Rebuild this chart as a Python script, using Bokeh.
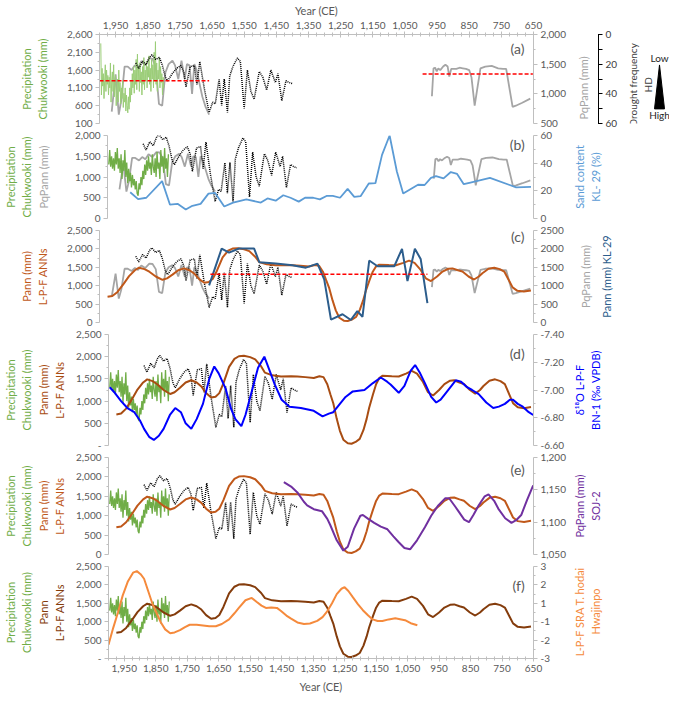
import math
from bokeh.plotting import figure
from bokeh.models import Range1d, LinearAxis, FixedTicker, NumeralTickFormatter, Label
from bokeh.layouts import column, row
from bokeh.core.properties import value
from bokeh.embed import file_html
from bokeh.resources import INLINE

# ---------------- data ----------------
year_ticks = [1950, 1850, 1750, 1650, 1550, 1450, 1350, 1250, 1150, 1050, 950, 850, 750, 650]
year_minor = list(range(2000, 649, -25))

# Chukwooki precipitation, annual (panel a)
chuk_annual_years = list(range(1996, 1798, -2))
chuk_annual = [2350, 900, 1650, 1150, 1500, 800, 1300, 1750, 1000, 1600,
               1200, 1450, 900, 1400, 1100, 1800, 700, 1300, 1550, 1000,
               1750, 850, 1200, 1450, 600, 1100, 1350, 700, 1600, 1000,
               1250, 650, 1100, 800, 1300, 550, 950, 700, 1100, 450,
               900, 600, 400, 850, 500, 1100, 700, 1300, 900, 1500,
               1100, 1700, 950, 1600, 1200, 1900, 1050, 2050, 1300, 1700,
               1000, 1800, 1250, 1550, 900, 1700, 1200, 1950, 1050, 1600,
               1300, 1850, 1100, 1700, 1400, 2000, 1200, 1650, 1000, 1900,
               1350, 1750, 1100, 2100, 1300, 2400, 1200, 1800, 1000, 1600,
               1350, 1950, 1100, 1700, 1250, 1500, 900, 1400, 1100]

# Chukwooki precipitation, smoothed (panels b, d, e, f)
chuk_years = list(range(1996, 1806, -3))
chuk = [1300, 1650, 1250, 1500, 1200, 1450, 1150, 1600,
        1300, 1700, 1200, 1450, 1100, 1550, 950, 1400,
        1150, 1650, 1000, 1350, 850, 1200, 900, 1100,
        750, 1050, 800, 950, 700, 900, 600, 550,
        850, 700, 1000, 800, 1150, 950, 1300, 1050,
        1400, 1150, 1500, 1200, 1350, 1050, 1550, 1250,
        1100, 1450, 1000, 1600, 1200, 1350, 950, 1650,
        1250, 1500, 1100, 1700, 1200, 1450, 1000, 1550]

# PqPann (grey), two segments
pq_early_years = [1962, 1950, 1940, 1932, 1922, 1912, 1900, 1890, 1880, 1870, 1858, 1845, 1835, 1825, 1815, 1805,
                  1795, 1785, 1773, 1765, 1755, 1745, 1735, 1728, 1720, 1712, 1705, 1698, 1690, 1680, 1670, 1659]
pq_early = [700, 1330, 650, 900, 1460, 1460, 1400, 1480, 1430, 1550, 1480, 1600, 1590, 1450, 830, 800,
            1360, 1500, 1560, 1480, 1250, 1560, 1250, 1500, 1480, 1000, 1500, 1400, 1200, 950, 780, 650]
pq_late_years = [966, 961, 956, 951, 946, 940, 931, 924, 917, 912, 906, 899, 890, 880, 870, 860, 850, 843, 833,
                 815, 800, 780, 760, 745, 735, 715, 705, 685, 660]
pq_late = [960, 1430, 1440, 1380, 1430, 1400, 1460, 1490, 1460, 1290, 1420, 1420, 1420, 1440, 1430, 1420, 1400,
           1280, 800, 1430, 1460, 1470, 1430, 1420, 1420, 780, 800, 850, 920]

# black dotted record
dot_years = [1887, 1878, 1866, 1855, 1845, 1837, 1825, 1814, 1805, 1795, 1788, 1773, 1760, 1747, 1738, 1731,
             1718, 1705, 1697, 1688, 1674, 1659, 1648, 1640, 1628, 1620, 1612, 1602, 1595, 1585, 1571, 1562,
             1550, 1540, 1529, 1519, 1503, 1492, 1480, 1467, 1453, 1445, 1433, 1420, 1410, 1400]
dot_vals = [1800, 1650, 1850, 1750, 1950, 2030, 1900, 1960, 1750, 1400, 1300, 1510, 1650, 1730, 1550, 1130,
            1700, 1730, 1200, 1840, 1080, 410, 700, 650, 1340, 610, 1350, 410, 1430, 1700, 1940, 1850,
            520, 1600, 1000, 780, 1560, 1400, 1040, 1600, 1250, 1500, 740, 1300, 1250, 1220]

# red dashed mean lines
mean_a_early_years, mean_a_early = [2000, 1659], [1220, 1220]
mean_a_late_years, mean_a_late = [995, 652], [1335, 1335]
mean_c_years, mean_c = [1655, 980], [1314, 1314]

# sand content KL-29 (%)
sand_years = [1928, 1903, 1877, 1827, 1802, 1778, 1752, 1731, 1705, 1680, 1659, 1630, 1602, 1560, 1514, 1493,
              1467, 1443, 1420, 1394, 1374, 1348, 1327, 1306, 1286, 1263, 1239, 1218, 1198, 1172, 1151, 1130,
              1106, 1083, 1063, 1016, 995, 975, 959, 935, 912, 892, 871, 850, 788, 705, 658]
sand = [19, 14, 15, 27, 10, 10.6, 6.5, 9.2, 10.6, 18, 18.5, 8.7, 11.5, 13.8, 11.5, 14.5,
        12.9, 16.8, 15, 12.2, 15, 15, 13.8, 16.3, 16.3, 15, 21.4, 15.6, 16.1, 25.3, 25.5, 46,
        60, 34, 18, 24.4, 24.2, 29.4, 30.6, 29, 33.6, 32.2, 24.8, 26, 29.4, 22.5, 22.8]

# Pann L-P-F ANNs (brown)
anns_years = [1975, 1960, 1944, 1925, 1908, 1890, 1877, 1860, 1845, 1825, 1804, 1790, 1773, 1755, 1737, 1720,
              1705, 1690, 1674, 1660, 1648, 1635, 1617, 1600, 1586, 1570, 1550, 1534, 1515, 1503, 1480, 1452,
              1420, 1400, 1375, 1348, 1330, 1317, 1305, 1295, 1286, 1275, 1265, 1254, 1240, 1228, 1215, 1202,
              1190, 1180, 1172, 1160, 1150, 1140, 1130, 1100, 1078, 1055, 1037, 1020, 1001, 985, 969, 950,
              933, 915, 902, 885, 871, 852, 835, 820, 809, 790, 772, 755, 741, 725, 715, 700, 680, 658]
anns = [700, 720, 830, 1050, 1260, 1420, 1490, 1450, 1380, 1250, 1160, 1200, 1300, 1420, 1470, 1420,
        1330, 1180, 1080, 1100, 1180, 1400, 1770, 1950, 2010, 2020, 1990, 1940, 1780, 1640, 1580, 1555,
        1560, 1555, 1540, 1520, 1560, 1540, 1380, 1150, 950, 600, 330, 130, 50, 40, 80, 150,
        350, 600, 850, 1150, 1380, 1520, 1570, 1560, 1555, 1620, 1680, 1620, 1430, 1200, 1126, 1250,
        1384, 1460, 1470, 1420, 1384, 1250, 1168, 1250, 1340, 1460, 1490, 1450, 1384, 1120, 954, 860, 840, 869]

# Pann KL-29 (dark blue)
kl29_years = [1659, 1620, 1597, 1566, 1519, 1503, 1452, 1400, 1358, 1322, 1301, 1280, 1244, 1218, 1198, 1182,
              1161, 1135, 1083, 1059, 1042, 1019, 1001, 980]
kl29 = [1010, 2010, 1900, 2010, 2010, 1640, 1600, 1555, 1490, 1600, 1170, 80, 224, 69, 309, 155,
        1684, 1529, 1529, 2002, 1126, 2002, 1727, 524]

# d18O L-P-F BN-1
d18o_years = [1996, 1980, 1960, 1940, 1918, 1900, 1887, 1870, 1856, 1840, 1825, 1805, 1788, 1770, 1755, 1737,
              1720, 1700, 1680, 1664, 1650, 1628, 1610, 1597, 1578, 1565, 1545, 1525, 1505, 1490, 1472, 1450,
              1425, 1389, 1348, 1320, 1300, 1286, 1265, 1247, 1224, 1187, 1160, 1135, 1115, 1104, 1078, 1060,
              1040, 1026, 1010, 995, 975, 959, 945, 928, 897, 880, 861, 845, 824, 800, 778, 760, 741, 725,
              715, 700, 684, 665, 651]
d18o = [-7.02, -6.98, -6.92, -6.87, -6.84, -6.78, -6.72, -6.66, -6.64, -6.67, -6.72, -6.82, -6.87, -6.84, -6.76, -6.72,
        -6.79, -6.90, -7.08, -7.17, -7.12, -7.01, -6.86, -6.79, -6.74, -6.82, -6.99, -7.16, -7.24, -7.15, -7.04, -6.93,
        -6.88, -6.87, -6.85, -6.81, -6.83, -6.84, -6.90, -6.95, -6.99, -7.00, -7.05, -7.09, -7.06, -7.04, -6.98, -7.03,
        -7.14, -7.18, -7.12, -7.05, -6.95, -6.91, -6.93, -6.98, -7.07, -7.06, -7.02, -7.00, -6.97, -6.91, -6.87, -6.88,
        -6.90, -6.93, -6.93, -6.90, -6.88, -6.84, -6.82]

# PqPann SOJ-2 (purple)
soj_years = [1443, 1420, 1400, 1380, 1369, 1348, 1322, 1305, 1296, 1275, 1254, 1240, 1220, 1200, 1192, 1175,
             1156, 1135, 1114, 1095, 1078, 1060, 1042, 1020, 995, 975, 954, 930, 918, 900, 887, 870, 855, 840,
             824, 805, 793, 775, 762, 740, 720, 705, 689, 670, 651]
soj = [1162, 1155, 1146, 1132, 1126, 1120, 1117, 1105, 1096, 1072, 1056, 1062, 1090, 1110, 1111, 1105,
       1099, 1093, 1089, 1078, 1069, 1060, 1058, 1072, 1092, 1110, 1125, 1137, 1137, 1125, 1116, 1104, 1100, 1112,
       1126, 1140, 1143, 1133, 1121, 1106, 1099, 1103, 1111, 1135, 1157]

# L-P-F SRA T. hodai Hwajinpo (orange)
sra_years = [2000, 1985, 1970, 1955, 1939, 1922, 1910, 1898, 1887, 1874, 1861, 1848, 1835, 1820, 1804, 1790,
             1773, 1757, 1742, 1720, 1700, 1680, 1659, 1640, 1617, 1600, 1586, 1565, 1545, 1530, 1514, 1500,
             1483, 1465, 1452, 1435, 1420, 1400, 1379, 1360, 1337, 1320, 1306, 1290, 1275, 1260, 1250, 1238,
             1224, 1208, 1192, 1175, 1161, 1145, 1130, 1110, 1089, 1070, 1058, 1040, 1019]
sra = [-2.1, -1.0, 0.0, 1.1, 2.0, 2.6, 2.7, 2.5, 2.2, 1.4, 0.6, 0.0, -0.6, -1.1, -1.35, -1.3,
       -1.15, -0.95, -0.8, -0.8, -0.85, -0.9, -0.9, -0.75, -0.45, -0.05, 0.3, 0.8, 0.95, 0.7, 0.45, 0.3,
       0.32, 0.3, 0.1, -0.2, -0.4, -0.65, -0.75, -0.72, -0.55, -0.3, 0.05, 0.6, 1.2, 1.55, 1.65, 1.4,
       1.0, 0.55, 0.15, -0.2, -0.45, -0.55, -0.55, -0.45, -0.38, -0.45, -0.5, -0.7, -0.83]

# drought-frequency scale legend (HD units)
hd_ticks = [0, 20, 40, 60]
hd_minor = [10, 30, 50]
tri_x = [-0.5, 0.5, 0.0]
tri_hd = [50, 50, 8]
tri_text_x = [0, 0]
tri_text_hd = [1.5, 56]
tri_text = ["Low", "High"]

# ---------------- style ----------------
FONT = "Lato"
TICK_SIZE = "10px"
LABEL_SIZE = "11px"
AXIS_GREY = "#bfbfbf"
TICK_TEXT = "#595959"
GREEN = "#70ad47"
GREEN_LIGHT = "#9bcd78"
GREY = "#a5a5a5"
RED = "#ff0000"
SAND = "#5b9bd5"
BROWN = "#c0581a"
BROWN_D = "#a84c12"
BROWN_F = "#843c0c"
KL29 = "#2c5d8c"
D18O = "#0000ff"
PURPLE = "#7030a0"
ORANGE = "#f58a3c"
DARK = "#404040"
DOT = "1 1"

W = 669          # total width
FL = 99          # left border (axes + titles)
FW = 434         # frame width
R1 = 40          # right border holding the right-hand tick labels
WP = FL + FW + R1
GAP = 6

x_range = Range1d(2000, 650)


def make_panel(top, frame, bottom, y_range, extra, width=WP):
    p = figure(width=width, height=top + frame + bottom, x_range=x_range, y_range=y_range,
               x_axis_location=None, y_axis_location=None,
               output_backend="svg", toolbar_location=None,
               min_border_left=FL, min_border_right=width - FL - FW,
               min_border_top=top, min_border_bottom=bottom)
    p.extra_y_ranges = extra
    p.outline_line_color = None
    p.grid.visible = False
    return p


def blank(width, height, xr, yr):
    f = figure(width=width, height=height, x_range=xr, y_range=yr,
               x_axis_location=None, y_axis_location=None, min_border=0,
               output_backend="svg", toolbar_location=None)
    f.outline_line_color = None
    f.grid.visible = False
    return f


def title_strip(width, top, frame, bottom, items, dy=0):
    # rotated titles (reading bottom-to-top) beside the right-hand axis, centred on the frame
    h = top + frame + bottom
    f = blank(width, h, Range1d(0, width), Range1d(0, h))
    for x, text, color in items:
        f.text(x=[x], y=[bottom + frame / 2 + dy], text=[text], angle=math.pi / 2,
               text_align="center", text_baseline="middle", text_font=value(FONT),
               text_font_size=LABEL_SIZE, text_color=color)
    return f


def add_y_axis(p, side, rng, ticks, minor, fmt, label, label_color, standoff,
               line_color=AXIS_GREY, text_color=TICK_TEXT, overrides=None,
               tick_in=0, tick_out=4, minor_in=0, minor_out=2):
    ax = LinearAxis(y_range_name=rng, ticker=FixedTicker(ticks=ticks, minor_ticks=minor),
                    formatter=NumeralTickFormatter(format=fmt), axis_label=label)
    ax.axis_line_color = line_color
    ax.major_tick_line_color = line_color
    ax.minor_tick_line_color = line_color
    ax.major_tick_in = tick_in
    ax.major_tick_out = tick_out
    ax.minor_tick_in = minor_in
    ax.minor_tick_out = minor_out
    ax.major_label_standoff = 3
    ax.major_label_text_font = FONT
    ax.major_label_text_font_size = TICK_SIZE
    ax.major_label_text_color = text_color
    ax.axis_label_text_font = FONT
    ax.axis_label_text_font_size = LABEL_SIZE
    ax.axis_label_text_font_style = "normal"
    ax.axis_label_text_color = label_color
    ax.axis_label_standoff = standoff
    if overrides:
        ax.major_label_overrides = overrides
    p.add_layout(ax, side)
    return ax


def add_label_axis(p, side, rng, label, label_color, standoff):
    ax = LinearAxis(y_range_name=rng, ticker=FixedTicker(ticks=[]), axis_label=label)
    ax.axis_line_color = None
    ax.major_tick_in = 0
    ax.major_tick_out = 0
    ax.minor_tick_in = 0
    ax.minor_tick_out = 0
    ax.major_label_text_font_size = "0px"
    ax.axis_label_text_font = FONT
    ax.axis_label_text_font_size = LABEL_SIZE
    ax.axis_label_text_font_style = "normal"
    ax.axis_label_text_color = label_color
    ax.axis_label_standoff = standoff
    p.add_layout(ax, side)
    return ax


def add_x_axis(p, side):
    ax = LinearAxis(ticker=FixedTicker(ticks=year_ticks, minor_ticks=year_minor),
                    formatter=NumeralTickFormatter(format="0,0"), axis_label="Year (CE)")
    ax.axis_line_color = AXIS_GREY
    ax.major_tick_line_color = AXIS_GREY
    ax.minor_tick_line_color = AXIS_GREY
    ax.major_tick_in = 3
    ax.major_tick_out = 3
    ax.minor_tick_in = 2
    ax.minor_tick_out = 2
    ax.major_label_standoff = 3
    ax.major_label_text_font = FONT
    ax.major_label_text_font_size = TICK_SIZE
    ax.major_label_text_color = TICK_TEXT
    ax.axis_label_text_font = FONT
    ax.axis_label_text_font_size = LABEL_SIZE
    ax.axis_label_text_font_style = "normal"
    ax.axis_label_text_color = TICK_TEXT
    ax.axis_label_standoff = 2 if side == "above" else 5
    p.add_layout(ax, side)


def panel_tag(p, text, y):
    p.add_layout(Label(x=678, y=y, text=text, text_align="right", text_baseline="middle",
                       text_font=FONT, text_font_size="14px", text_color=TICK_TEXT))


def steps(a, b, s):
    out = []
    v = a
    while (s > 0 and v <= b + 1e-9) or (s < 0 and v >= b - 1e-9):
        out.append(round(v, 4))
        v += s
    return out


mm_ticks_2500 = steps(0, 2500, 500)
mm_minor_2500 = steps(250, 2250, 500)

# ---------------- panel (a) ----------------
TA, FA, BA = 32, 91, GAP
HA = TA + FA + BA
pa = make_panel(TA, FA, BA, Range1d(100, 2600), {"pq": Range1d(500, 2000)})
add_x_axis(pa, "above")
add_y_axis(pa, "left", "default", steps(100, 2600, 500), steps(350, 2350, 500), "0,0",
           "Precipitation\nChukwooki (mm)", GREEN, 15)
add_y_axis(pa, "right", "pq", steps(500, 2000, 500), steps(750, 1750, 500), "0,0", None, GREY, 0)
pa.line(pq_early_years, pq_early, y_range_name="pq", color=GREY, line_width=1.8)
pa.line(pq_late_years, pq_late, y_range_name="pq", color=GREY, line_width=1.8)
pa.line(chuk_annual_years, chuk_annual, color=GREEN_LIGHT, line_width=1)
pa.line(dot_years, dot_vals, color="black", line_width=1.5, line_dash=DOT)
pa.line(mean_a_early_years, mean_a_early, y_range_name="pq", color=RED, line_width=1.5, line_dash="4 2")
pa.line(mean_a_late_years, mean_a_late, y_range_name="pq", color=RED, line_width=1.5, line_dash="4 2")
panel_tag(pa, "(a)", 2210)

W_T1 = 25
ta = title_strip(W_T1, TA, FA, BA, [(10, "PqPann (mm)", GREY)])

# drought-frequency axis on a 1-px frame
W_HD = 21
fhd = figure(width=W_HD, height=HA, x_range=Range1d(0, 1), y_range=Range1d(60, 0),
             x_axis_location=None, y_axis_location=None,
             min_border_left=0, min_border_right=W_HD - 1, min_border_top=TA, min_border_bottom=BA,
             output_backend="svg", toolbar_location=None)
fhd.outline_line_color = None
fhd.grid.visible = False
add_y_axis(fhd, "right", "default", hd_ticks, hd_minor, "0", None, DARK, 0,
           line_color="black", text_color=DARK, tick_in=4, tick_out=4, minor_in=4, minor_out=4)

# title + Low/High triangle; x in units of 10 px, triangle centred 40 px from the strip's left edge
W_TRI = W - WP - W_T1 - W_HD
hd_per_px = 60 / FA
tri = blank(W_TRI, HA, Range1d(-4.0, -4.0 + W_TRI / 10),
            Range1d(60 + BA * hd_per_px, -TA * hd_per_px))
tri.patch(tri_x, tri_hd, color="black")
tri.text(x=tri_text_x, y=tri_text_hd, text=tri_text, text_align="center", text_baseline="middle",
         text_font=value(FONT), text_font_size="10px", text_color="#262626")
tri.text(x=[-1.9], y=[27], text=["Drought frequency\nHD"], angle=math.pi / 2,
         text_align="center", text_baseline="middle", text_font=value(FONT),
         text_font_size="10px", text_color=DARK)

# ---------------- panel (b) ----------------
pb = make_panel(GAP, 83, GAP, Range1d(0, 2000), {"sand": Range1d(0, 60)})
add_y_axis(pb, "left", "default", steps(0, 2000, 500), steps(250, 1750, 500), "0,0",
           "PqPann (mm)", GREY, 22)
add_label_axis(pb, "left", "default", "Precipitation\nChukwooki (mm)", GREEN, 2)
add_y_axis(pb, "right", "sand", [0, 20, 40, 60], [10, 30, 50], "0", None, SAND, 0)
pb.line(pq_early_years, pq_early, color=GREY, line_width=1.8)
pb.line(pq_late_years, pq_late, color=GREY, line_width=1.8)
pb.line(chuk_years, chuk, color=GREEN, line_width=1.3)
pb.line(dot_years, dot_vals, color="black", line_width=1.5, line_dash=DOT)
pb.line(sand_years, sand, y_range_name="sand", color=SAND, line_width=1.8)
panel_tag(pb, "(b)", 1790)
tb = title_strip(W - WP, GAP, 83, GAP, [(14, "Sand content\nKL- 29 (%)", SAND)])

# ---------------- panel (c) ----------------
pc = make_panel(GAP, 92, GAP, Range1d(0, 2500), {"r": Range1d(0, 2500)})
add_y_axis(pc, "left", "default", mm_ticks_2500, mm_minor_2500, "0,0",
           "Pann (mm)\nL-P-F ANNs", BROWN, 15)
add_y_axis(pc, "right", "r", mm_ticks_2500, mm_minor_2500, "0", None, GREY, 0)
pc.line(pq_early_years, pq_early, y_range_name="r", color=GREY, line_width=1.8)
pc.line(pq_late_years, pq_late, y_range_name="r", color=GREY, line_width=1.8)
pc.line(dot_years, dot_vals, color="black", line_width=1.5, line_dash=DOT)
pc.line(anns_years, anns, color=BROWN, line_width=2)
pc.line(kl29_years, kl29, y_range_name="r", color=KL29, line_width=2)
pc.line(mean_c_years, mean_c, y_range_name="r", color=RED, line_width=1.5, line_dash="4 2")
panel_tag(pc, "(c)", 2330)
tc = title_strip(W - WP, GAP, 92, GAP, [(12, "PqPann (mm)", GREY), (33, "Pann (mm) KL-29", KL29)])

# ---------------- panel (d) ----------------
pd_ = make_panel(GAP, 111, GAP, Range1d(0, 2500), {"o": Range1d(-6.6, -7.4)})
add_y_axis(pd_, "left", "default", mm_ticks_2500, mm_minor_2500, "0,0",
           "Pann (mm)\nL-P-F ANNs", BROWN_D, 7, overrides={0: "-"})
add_label_axis(pd_, "left", "default", "Precipitation\nChukwooki (mm)", GREEN, 2)
add_y_axis(pd_, "right", "o", [-7.4, -7.2, -7.0, -6.8, -6.6], [-7.3, -7.1, -6.9, -6.7], "0.00",
           None, D18O, 0)
pd_.line(chuk_years, chuk, color=GREEN, line_width=1.3)
pd_.line(dot_years, dot_vals, color="black", line_width=1.5, line_dash=DOT)
pd_.line(anns_years, anns, color=BROWN_D, line_width=2)
pd_.line(d18o_years, d18o, y_range_name="o", color=D18O, line_width=2)
panel_tag(pd_, "(d)", 2070)
td = title_strip(W - WP, GAP, 111, GAP, [(14, "δ¹⁸O L-P-F\nBN-1 (‰ VPDB)", D18O)])

# ---------------- panel (e) ----------------
pe = make_panel(GAP, 97, GAP, Range1d(0, 2500), {"s": Range1d(1050, 1200)})
add_y_axis(pe, "left", "default", mm_ticks_2500, mm_minor_2500, "0,0",
           "Pann (mm)\nL-P-F ANNs", BROWN, 7)
add_label_axis(pe, "left", "default", "Precipitation\nChukwooki (mm)", GREEN, 2)
add_y_axis(pe, "right", "s", [1050, 1100, 1150, 1200], [1075, 1125, 1175], "0,0", None, PURPLE, 0)
pe.line(chuk_years, chuk, color=GREEN, line_width=1.3)
pe.line(dot_years, dot_vals, color="black", line_width=1.5, line_dash=DOT)
pe.line(anns_years, anns, color=BROWN, line_width=2)
pe.line(soj_years, soj, y_range_name="s", color=PURPLE, line_width=2)
panel_tag(pe, "(e)", 2180)
te = title_strip(W - WP, GAP, 97, GAP, [(14, "PqPann (mm)\nSOJ-2", PURPLE)])

# ---------------- panel (f) ----------------
pf = make_panel(GAP, 92, 37, Range1d(0, 2500), {"h": Range1d(-3, 3)})
add_x_axis(pf, "below")
add_y_axis(pf, "left", "default", mm_ticks_2500, mm_minor_2500, "0,0",
           "Pann\nL-P-F ANNs", BROWN_F, 7, overrides={0: "-"})
add_label_axis(pf, "left", "default", "Precipitation\nChukwooki (mm)", GREEN, 2)
add_y_axis(pf, "right", "h", [-3, -1.8, -0.6, 0.6, 1.8, 3], [-2.4, -1.2, 0, 1.2, 2.4], "0",
           None, ORANGE, 0)
pf.line(chuk_years, chuk, color=GREEN, line_width=1.3)
pf.line(anns_years, anns, color=BROWN_F, line_width=2)
pf.line(sra_years, sra, y_range_name="h", color=ORANGE, line_width=2)
panel_tag(pf, "(f)", 1980)
tf = title_strip(W - WP, GAP, 92, 37, [(14, "L-P-F SRA T. hodai\nHwajinpo", ORANGE)], dy=-14)

layout = column(row(pa, ta, fhd, tri), row(pb, tb), row(pc, tc), row(pd_, td), row(pe, te), row(pf, tf))
open("out.html", "w").write(file_html(layout, INLINE))
